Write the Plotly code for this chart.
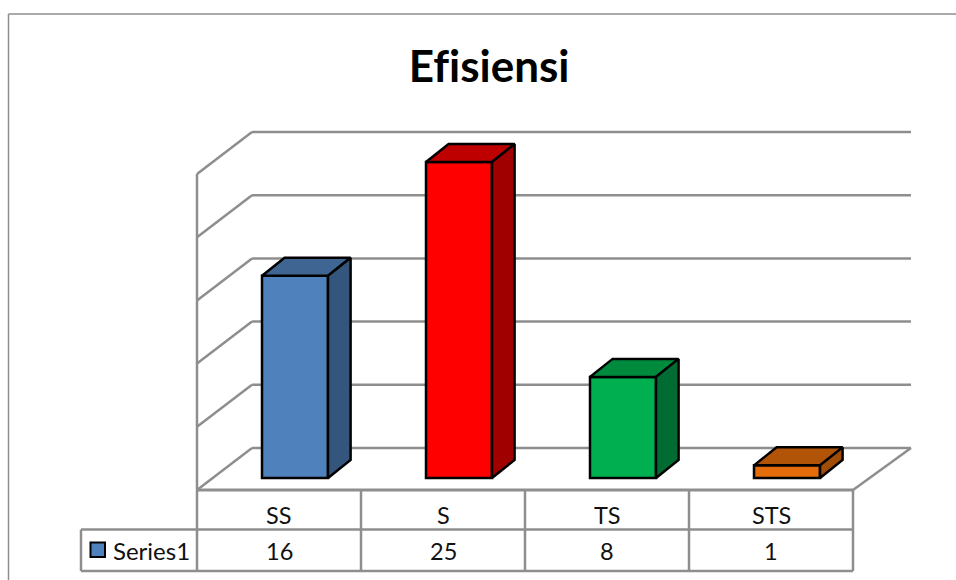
import plotly.graph_objects as go

# Data
title = "Efisiensi"
categories = ["SS", "S", "TS", "STS"]
values = [16, 25, 8, 1]
series_name = "Series1"
y_ticks = [0, 5, 10, 15, 20, 25]
front_colors = ["#4F81BD", "#FF0000", "#00B050", "#E46C0A"]
top_colors = ["#3F6592", "#BE0000", "#008A3E", "#B25407"]
side_colors = ["#34557C", "#A00000", "#006B33", "#A04D08"]

# Canvas and pseudo-3D geometry (pixels)
W, H = 956, 580
PLOT_L, CAT_W, FLOOR_Y = 197, 164, 490
PX_PER_UNIT = 12.64
DEPTH_X, DEPTH_Y = 55, 42
BACK_RIGHT_X = 911
BAR_HALF = 33 / CAT_W
BAR_FX, BAR_BX = 16 / CAT_W, 38.6 / CAT_W      # bar front/back offset along x
BAR_FY, BAR_BY = 12 / PX_PER_UNIT, 30 / PX_PER_UNIT  # bar front/back offset along y
GRID = "#8E8E8E"
EDGE = 2.5

n = len(categories)
wall_dx = DEPTH_X / CAT_W
wall_dy = DEPTH_Y / PX_PER_UNIT
back_right = (BACK_RIGHT_X - PLOT_L) / CAT_W

fig = go.Figure()

# Front faces: real bars on the axes
centers = [i + 0.5 for i in range(n)]
fig.add_trace(go.Bar(
    x=[c + BAR_FX for c in centers], y=values, base=BAR_FY, width=2 * BAR_HALF,
    marker=dict(color=front_colors, line=dict(color="black", width=EDGE)),
    showlegend=False, hoverinfo="skip",
))


def face(points, color):
    xs, ys = zip(*points)
    fig.add_trace(go.Scatter(
        x=list(xs) + [xs[0]], y=list(ys) + [ys[0]], mode="lines", fill="toself",
        fillcolor=color, line=dict(color="black", width=EDGE),
        showlegend=False, hoverinfo="skip",
    ))


# Top and side faces derived from the values
for c, v, tc, sc in zip(centers, values, top_colors, side_colors):
    l, r = c - BAR_HALF, c + BAR_HALF
    face([(l + BAR_FX, v + BAR_FY), (r + BAR_FX, v + BAR_FY),
          (r + BAR_BX, v + BAR_BY), (l + BAR_BX, v + BAR_BY)], tc)
    face([(r + BAR_FX, BAR_FY), (r + BAR_FX, v + BAR_FY),
          (r + BAR_BX, v + BAR_BY), (r + BAR_BX, BAR_BY)], sc)

shapes = []


def seg(x0, y0, x1, y1, width=2.5):
    shapes.append(dict(type="line", xref="x", yref="y", x0=x0, y0=y0, x1=x1, y1=y1,
                       layer="below", line=dict(color=GRID, width=width)))


# Back-wall gridlines and side-wall diagonals
for v in y_ticks:
    seg(0, v, wall_dx, v + wall_dy)
    seg(wall_dx, v + wall_dy, back_right, v + wall_dy)
seg(0, 0, 0, y_ticks[-1])
seg(0, 0, n, 0, 3)
seg(n, 0, back_right, wall_dy)


def px_line(x0, y0, x1, y1, width=2.5):
    shapes.append(dict(type="line", xref="paper", yref="paper",
                       x0=x0 / W, x1=x1 / W, y0=1 - y0 / H, y1=1 - y1 / H,
                       layer="below", line=dict(color=GRID, width=width)))


# Outer chart border
px_line(8.5, 14, W, 14, 1.5)
px_line(8.5, 14, 8.5, H, 1.5)

# Data table
TABLE_MID, TABLE_BOTTOM, TABLE_LEFT = 529.5, 571, 81
for i in range(n + 1):
    px = PLOT_L + i * CAT_W
    px_line(px, FLOOR_Y, px, TABLE_BOTTOM)
px_line(TABLE_LEFT, TABLE_MID, PLOT_L + n * CAT_W, TABLE_MID)
px_line(TABLE_LEFT, TABLE_BOTTOM, PLOT_L + n * CAT_W, TABLE_BOTTOM)
px_line(TABLE_LEFT, TABLE_MID, TABLE_LEFT, TABLE_BOTTOM)

# Legend key
shapes.append(dict(type="rect", xref="paper", yref="paper",
                   x0=90.5 / W, x1=105 / W, y0=1 - 542.5 / H, y1=1 - 557 / H,
                   fillcolor=front_colors[0], line=dict(color="black", width=2)))

FONT = "Lato"
TXT = "#111111"
SIZE = 23.5


def note(text, xref, x, py, size=SIZE, xanchor="center", color=TXT):
    return dict(text=text, xref=xref, yref="paper", x=x, y=1 - py / H, showarrow=False,
                xanchor=xanchor, yanchor="middle", font=dict(family=FONT, size=size, color=color))


annotations = [note(f"<b>{title}</b>", "paper", 488.5 / W, 65, size=44, color="black")]
for c, cat, v in zip(centers, categories, values):
    annotations.append(note(cat, "x", c, 515))
    annotations.append(note(str(v), "x", c, 551))
annotations.append(note(series_name, "paper", 111 / W, 550, xanchor="left", size=24))

fig.update_layout(
    width=W, height=H, margin=dict(l=0, r=0, t=0, b=0),
    paper_bgcolor="white", plot_bgcolor="white", showlegend=False,
    xaxis=dict(range=[-PLOT_L / CAT_W, (W - PLOT_L) / CAT_W], visible=False, domain=[0, 1]),
    yaxis=dict(range=[-(H - FLOOR_Y) / PX_PER_UNIT, FLOOR_Y / PX_PER_UNIT], visible=False, domain=[0, 1]),
    shapes=shapes, annotations=annotations,
)
fig.write_html(
    "out.html",
    config={"displayModeBar": False},
    post_script="document.body.style.margin='0';document.body.style.overflow='hidden';"
                "document.querySelectorAll('.annotation-text').forEach(function(e){"
                "e.style.fontVariantLigatures='none';e.style.fontFeatureSettings='\"liga\" 0';});",
)
